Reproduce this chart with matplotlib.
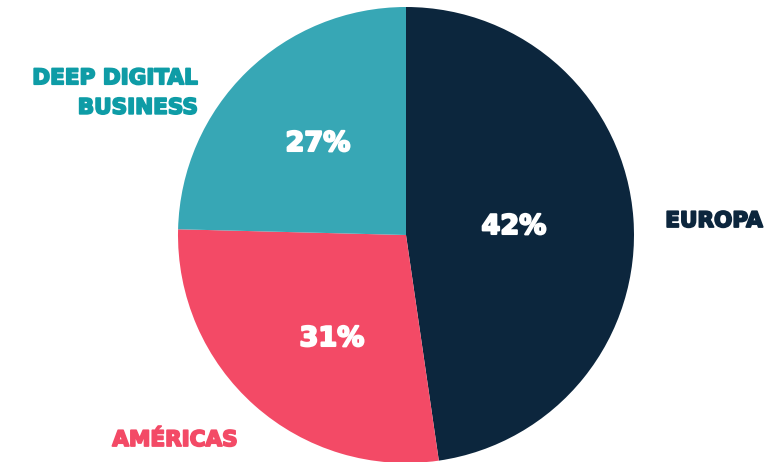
import matplotlib.pyplot as plt
import matplotlib.patheffects as pe

categories = ["EUROPA", "AMÉRICAS", "DEEP DIGITAL\nBUSINESS"]
slice_values = [47.7, 27.7, 24.6]          # angular share as drawn
pct_labels = ["42%", "31%", "27%"]         # printed percentages
colors = ["#0C263D", "#F34A66", "#37A7B5"]
label_colors = ["#0C263D", "#F34A66", "#0E9CA6"]

W, H = 784, 462
fig = plt.figure(figsize=(W / 100, H / 100), dpi=100)
ax = fig.add_axes([0, 0, 1, 1])

cx, cy, r = 406, H - 235, 228
ax.pie(slice_values, colors=colors, startangle=90, counterclock=False,
       center=(cx, cy), radius=r, frame=True,
       wedgeprops=dict(linewidth=0))
ax.set_xlim(0, W)
ax.set_ylim(0, H)
ax.set_aspect("equal")
ax.axis("off")

fam = ["DejaVu Sans"]


def heavy(c, w=1.3):
    return [pe.withStroke(linewidth=w, foreground=c)]


# percentage labels
pct_pos = [(514, 227), (332, 339), (318, 144)]
for (x, y), t in zip(pct_pos, pct_labels):
    ax.text(x, H - y, t, color="white", fontsize=19.5, fontweight="bold",
            family=fam, ha="center", va="center",
            path_effects=heavy("white", 1.5))

# category labels
ax.text(714, H - 221, categories[0], color=label_colors[0], fontsize=15.5,
        fontweight="bold", family=fam, ha="center", va="center",
        path_effects=heavy(label_colors[0]))
ax.text(175, H - 440, categories[1], color=label_colors[1], fontsize=15.5,
        fontweight="bold", family=fam, ha="center", va="center",
        path_effects=heavy(label_colors[1]))
ax.text(198, H - 93, categories[2], color=label_colors[2], fontsize=15.5,
        fontweight="bold", family=fam, ha="right", va="center",
        multialignment="right", linespacing=1.6,
        path_effects=heavy(label_colors[2]))

fig.savefig("out.png", dpi=100)
